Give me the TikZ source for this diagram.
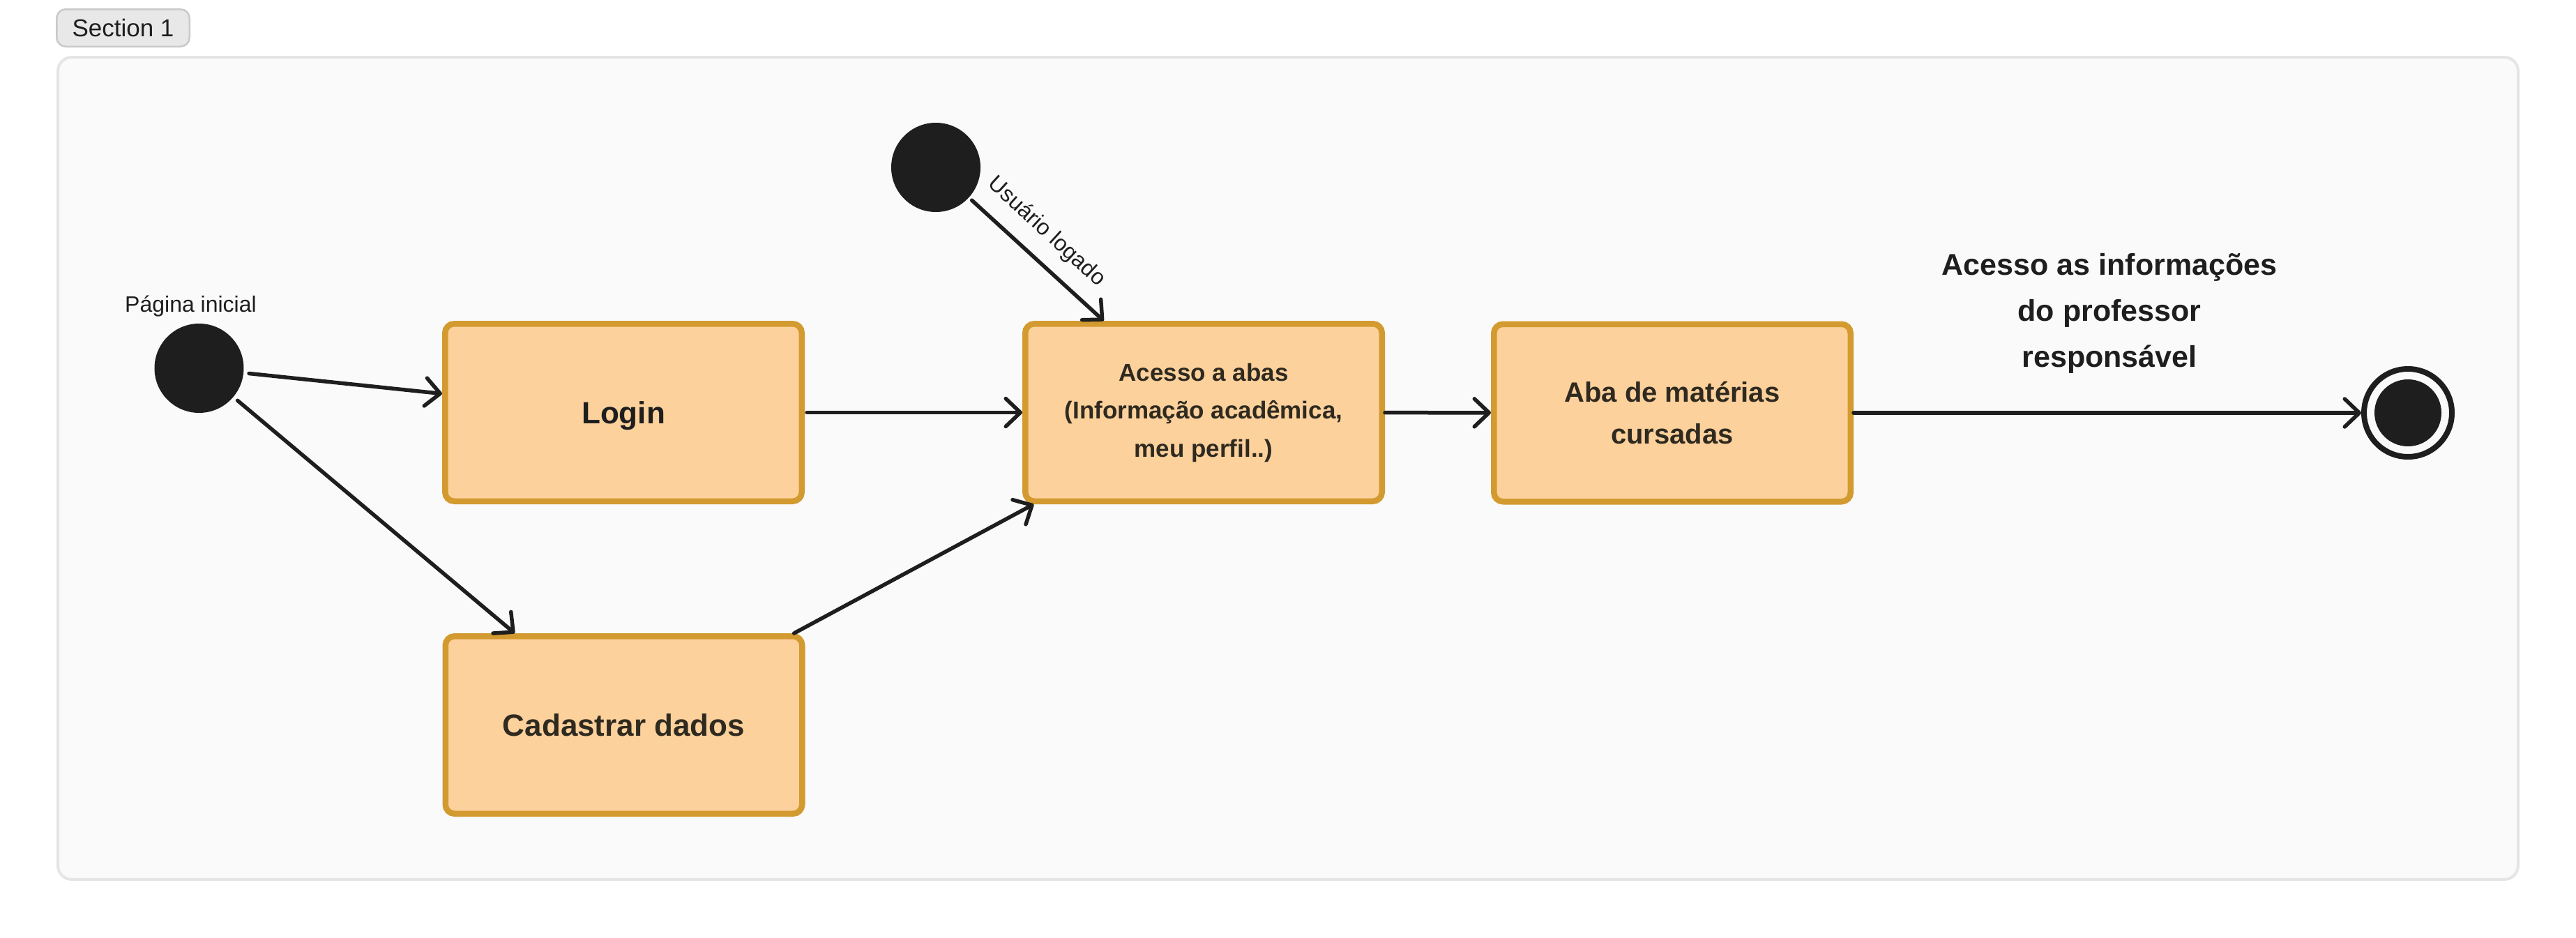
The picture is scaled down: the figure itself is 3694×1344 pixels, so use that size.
\documentclass[tikz,border=0pt]{standalone}
\usepackage{fontspec}
\setmainfont{Liberation Sans}
\usetikzlibrary{arrows.meta}
\definecolor{boxfill}{HTML}{FCD19C}
\definecolor{boxline}{HTML}{D39A30}
\definecolor{ink}{HTML}{1E1E1E}
\definecolor{boxtext}{HTML}{2F2A20}
\definecolor{framefill}{HTML}{FAFAFA}
\definecolor{frameline}{HTML}{E5E5E5}
\definecolor{secfill}{HTML}{E8E8E8}
\definecolor{secline}{HTML}{C9C9C9}
\tikzset{
  statebox/.style={draw=boxline, fill=boxfill, line width=8.5pt, rounded corners=13pt,
    minimum width=511.5pt, minimum height=254.5pt, inner sep=0pt, align=center, text=boxtext},
  startdot/.style={circle, fill=ink, minimum size=128pt, inner sep=0pt, outer sep=0pt},
  flow/.style={draw=ink, line width=5.5pt, line cap=round,
    -{Straight Barb[length=21pt,width=40pt,round]}},
  small/.style={font=\fontsize{32}{38}\selectfont, text=ink, inner sep=0pt},
}
\begin{document}
\begin{tikzpicture}[x=1pt,y=-1pt]
\useasboundingbox (0,0) rectangle (3694,1344);
\fill[white] (0,0) rectangle (3694,1344);
% section frame
\draw[frameline, fill=framefill, line width=4pt, rounded corners=20pt] (83,82) rectangle (3611,1261);
\node[draw=secline, fill=secfill, line width=2.5pt, rounded corners=13pt, minimum width=190.5pt,
  minimum height=53.5pt, inner sep=0pt, text=ink, font=\fontsize{35}{40}\selectfont] (sec) at (176.5,40) {Section 1};

% states
\node[statebox, text=ink, text depth=0pt, font=\bfseries\fontsize{44}{53}\selectfont] (login) at (894,591.5) {Login};
\node[statebox, text depth=0pt, font=\bfseries\fontsize{44}{53}\selectfont] (cad) at (894.5,1039.5) {Cadastrar dados};
\node[statebox, font=\bfseries\fontsize{35}{54.5}\selectfont] (acesso) at (1726,591.5)
  {Acesso a abas\\(Informação acadêmica,\\meu perfil..)};
\node[statebox, font=\bfseries\fontsize{40}{60}\selectfont] (aba) at (2398,592) {Aba de matérias\\cursadas};

% pseudo states
\node[startdot] (s1) at (285.5,528) {};
\node[small, anchor=base] (s1lbl) at (273.5,447) {Página inicial};
\node[startdot] (s2) at (1342,240) {};
\node[circle, draw=ink, line width=8pt, fill=framefill, minimum size=126pt, inner sep=0pt] (fin) at (3453,592) {};
\node[circle, fill=ink, minimum size=96pt, inner sep=0pt] (finin) at (fin) {};

% transitions
\draw[flow, shorten <=8pt] (s1) -- (login);
\draw[flow, shorten <=8pt] (s1) -- (cad);
\draw[flow, shorten <=3pt] (login) -- (acesso);
\draw[flow] (cad) -- (acesso);
\draw[flow, shorten <=6pt] (s2) -- node[small, sloped, above, pos=0.44, inner xsep=0pt, inner ysep=21pt] (ulbl) {Usuário logado} (acesso);
\draw[flow] (acesso) -- (aba);
\draw[flow] (aba) -- node[above=54pt, inner sep=0pt, xshift=3pt, align=center, text=ink,
  font=\bfseries\fontsize{43}{66}\selectfont] (elbl) {Acesso as informações\\do professor\\responsável} (fin);
\end{tikzpicture}
\end{document}
